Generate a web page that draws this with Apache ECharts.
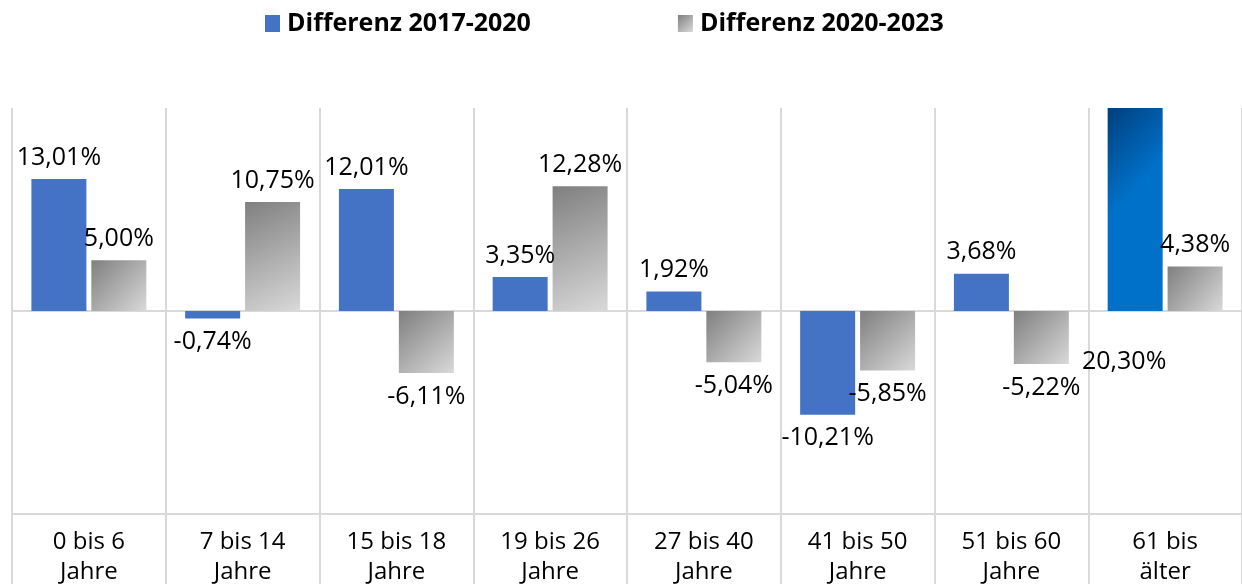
<!DOCTYPE html>
<html>
<head>
<meta charset="utf-8">
<script src="https://cdn.jsdelivr.net/npm/echarts@6/dist/echarts.min.js"></script>
<style>
  html, body { margin: 0; padding: 0; background: #fff; overflow: hidden; }
  #chart { width: 1242px; height: 587px; }
</style>
</head>
<body>
<div id="chart"></div>
<script>
const categories = ['0 bis 6\nJahre', '7 bis 14\nJahre', '15 bis 18\nJahre', '19 bis 26\nJahre',
  '27 bis 40\nJahre', '41 bis 50\nJahre', '51 bis 60\nJahre', '61 bis\nälter']
const seriesNames = ['Differenz 2017-2020', 'Differenz 2020-2023']
const diff1720 = [13.01, -0.74, 12.01, 3.35, 1.92, -10.21, 3.68, 20.30]
const diff2023 = [5.00, 10.75, -6.11, 12.28, -5.04, -5.85, -5.22, 4.38]

const FONT = 'Open Sans'
const gridColor = '#d9d9d9'

function fmtPct(v) {
  return v.toFixed(2).replace('.', ',') + '%'
}

const grayGrad = new echarts.graphic.LinearGradient(0, 0, 1, 1, [
  { offset: 0, color: '#7f7f7f' },
  { offset: 1, color: '#d9d9d9' }
])
const navyGrad = new echarts.graphic.LinearGradient(0, 0, 1, 0.25, [
  { offset: 0, color: '#003f7d' },
  { offset: 1, color: '#0071c9' }
])

function toItems(values, lastSpecial) {
  return values.map((v, i) => {
    const item = {
      value: v,
      label: { position: v >= 0 ? 'top' : 'bottom', distance: v >= 0 ? 9 : 11 }
    }
    // last bar runs off the top, its label sits under the axis
    if (lastSpecial && i === values.length - 1) {
      item.itemStyle = { color: navyGrad }
      item.label = { position: 'bottom', distance: 38, offset: [-11, 0] }
    }
    return item
  })
}

const chart = echarts.init(document.getElementById('chart'))
const labelStyle = {
  show: true,
  color: '#000',
  fontFamily: FONT,
  fontSize: 25,
  formatter: p => fmtPct(p.value)
}

chart.setOption({
  animation: false,
  textStyle: { fontFamily: FONT },
  legend: {
    top: 6,
    left: 260,
    itemWidth: 15,
    itemHeight: 17,
    itemGap: 147,
    icon: 'rect',
    textStyle: { fontFamily: FONT, fontSize: 25, fontWeight: 'bold', color: '#000', padding: [0, 0, 0, 2] },
    data: seriesNames
  },
  grid: { left: 12, top: 108, width: 1232, bottom: 67, containLabel: false },
  xAxis: {
    type: 'category',
    data: categories,
    position: 'bottom',
    axisLine: { show: true, onZero: false, lineStyle: { color: gridColor, width: 2 } },
    axisTick: { show: true, interval: 0, length: 70, lineStyle: { color: gridColor, width: 2 } },
    splitLine: { show: true, interval: 0, lineStyle: { color: gridColor, width: 2 } },
    axisLabel: { interval: 0, color: '#000', fontFamily: FONT, fontSize: 24, lineHeight: 30, margin: 13 }
  },
  yAxis: {
    type: 'value',
    min: -20,
    max: 20,
    interval: 20,
    axisLabel: { show: false },
    axisLine: { show: false },
    axisTick: { show: false },
    splitLine: { show: true, showMinLine: false, showMaxLine: false, lineStyle: { color: gridColor, width: 2 } }
  },
  series: [
    {
      name: seriesNames[0],
      type: 'bar',
      barWidth: 55,
      barGap: '9%',
      itemStyle: { color: '#4472c4' },
      label: labelStyle,
      data: toItems(diff1720, true)
    },
    {
      name: seriesNames[1],
      type: 'bar',
      barWidth: 55,
      barGap: '9%',
      itemStyle: { color: grayGrad },
      label: labelStyle,
      data: toItems(diff2023, false)
    }
  ]
})
</script>
</body>
</html>
